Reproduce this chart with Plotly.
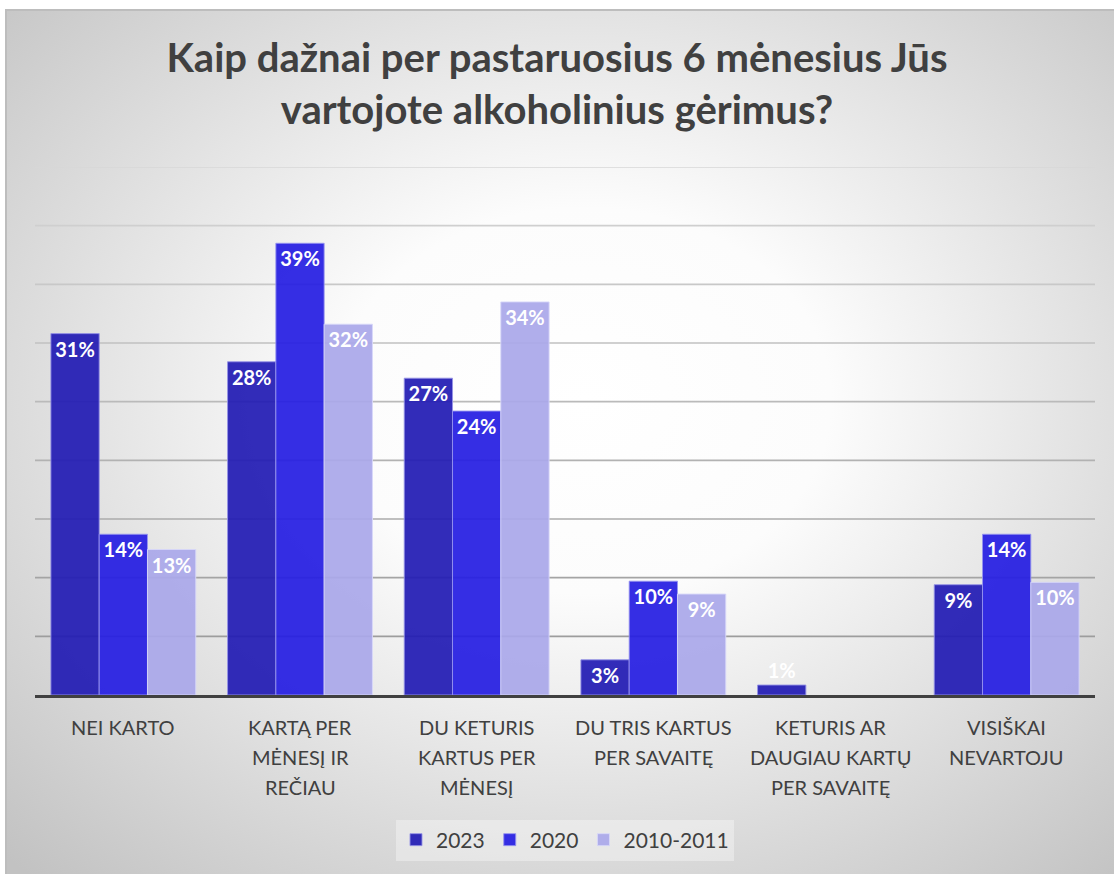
import base64
import plotly.graph_objects as go

# ---------------- data ----------------
category_lines = [
    ["NEI KARTO"],
    ["KARTĄ PER", "MĖNESĮ IR", "REČIAU"],
    ["DU KETURIS", "KARTUS PER", "MĖNESĮ"],
    ["DU TRIS KARTUS", "PER SAVAITĘ"],
    ["KETURIS AR", "DAUGIAU KARTŲ", "PER SAVAITĘ"],
    ["VISIŠKAI", "NEVARTOJU"],
]
categories = [" ".join(l) for l in category_lines]

series_names = ["2023", "2020", "2010-2011"]
values_2023 = [30.8, 28.4, 27.0, 3.0, 0.85, 9.4]
values_2020 = [13.7, 38.5, 24.2, 9.7, None, 13.7]
values_2010 = [12.4, 31.6, 33.5, 8.6, None, 9.6]
labels_2023 = ["31%", "28%", "27%", "3%", "1%", "9%"]
labels_2020 = ["14%", "39%", "24%", "10%", "", "14%"]
labels_2010 = ["13%", "32%", "34%", "9%", "", "10%"]

title_text = "Kaip dažnai per pastaruosius 6 mėnesius Jūs<br>vartojote alkoholinius gėrimus?"

# ---------------- style ----------------
W, H = 1114, 874
ML, MR, MT, MB = 35, 19, 167, 179
PW, PH = W - ML - MR, H - MT - MB
FONT = "Lato"
TXT = "#404040"
colors = ["rgba(34,28,180,0.93)", "rgba(38,30,226,0.93)", "rgba(170,168,234,0.93)"]
edge = ["rgba(150,148,230,0.9)", "rgba(150,148,240,0.9)", "rgba(215,215,248,0.9)"]


def px2x(px):
    return (px - ML) / PW


def py2y(py):
    return (H - MB - py) / PH


fig = go.Figure()
for name, vals, labs, c, e in zip(series_names,
                                  [values_2023, values_2020, values_2010],
                                  [labels_2023, labels_2020, labels_2010],
                                  colors, edge):
    positions = ["inside" if (v is not None and v > 2) else "outside" for v in vals]
    fig.add_trace(go.Bar(
        name=name, x=categories, y=vals, text=labs,
        textposition=positions, insidetextanchor="end", textangle=0,
        constraintext="none", cliponaxis=False,
        textfont=dict(family=FONT, size=20, color="white", weight="bold"),
        outsidetextfont=dict(family=FONT, size=20, color="white", weight="bold"),
        marker=dict(color=c, line=dict(color=e, width=1)),
        hoverinfo="skip",
    ))

# background radial gradient (as svg image)
svg = (
    '<svg xmlns="http://www.w3.org/2000/svg" width="1108" height="864" '
    'viewBox="0 0 1108 864" preserveAspectRatio="none">'
    '<defs><radialGradient id="g" cx="0.52" cy="0.45" r="0.74">'
    '<stop offset="0" stop-color="#ffffff"/>'
    '<stop offset="0.3" stop-color="#fcfcfc"/>'
    '<stop offset="1" stop-color="#c2c2c2"/>'
    '</radialGradient></defs>'
    '<rect x="0" y="0" width="1108" height="864" fill="url(#g)"/></svg>'
)
src = "data:image/svg+xml;base64," + base64.b64encode(svg.encode()).decode()
fig.add_layout_image(dict(
    source=src, xref="paper", yref="paper",
    x=px2x(6), y=py2y(10), sizex=(W + 4 - 6) / PW, sizey=(H + 4 - 10) / PH,
    xanchor="left", yanchor="top", sizing="stretch", layer="below",
))

shapes = []
# frame
shapes.append(dict(type="rect", xref="paper", yref="paper",
                   x0=px2x(6), x1=px2x(W + 10), y0=py2y(10), y1=py2y(H + 10),
                   line=dict(color="#bdbdbd", width=2), fillcolor="rgba(0,0,0,0)",
                   layer="below"))
# gridlines with vertical shading
grid_vals = list(range(5, 50, 5))
for gv in grid_vals:
    t = gv / 45.0
    g = int(150 + (215 - 150) * t)
    shapes.append(dict(type="line", xref="paper", yref="y", x0=0, x1=1, y0=gv, y1=gv,
                       line=dict(color=f"rgb({g},{g},{g})", width=1.6), layer="below"))
fig.update_layout(shapes=shapes)

# category labels, one annotation per line (Excel-like line spacing)
annotations = []
for cat, lines in zip(categories, category_lines):
    for i, ln in enumerate(lines):
        annotations.append(dict(x=cat, y=0, xref="x", yref="y", text=ln, showarrow=False,
                                yanchor="middle", yshift=-(32 + 30 * i),
                                font=dict(family=FONT, size=20, color=TXT)))
fig.update_layout(annotations=annotations)

fig.update_layout(
    width=W, height=H,
    margin=dict(l=ML, r=MR, t=MT, b=MB, autoexpand=False),
    paper_bgcolor="white", plot_bgcolor="rgba(0,0,0,0)",
    barmode="group", bargap=0.18, bargroupgap=0.0,
    title=dict(text=title_text, x=0.5, xanchor="center", xref="container",
               y=1 - 72 / H, yanchor="top", yref="container",
               font=dict(family=FONT, size=40, color=TXT, weight="bold")),
    xaxis=dict(showticklabels=False, showgrid=False, showline=True, linecolor="#404040",
               linewidth=3, ticks="", zeroline=False, fixedrange=True),
    yaxis=dict(range=[0, 45], showgrid=False, showticklabels=False, zeroline=False,
               showline=False, fixedrange=True),
    legend=dict(orientation="h", x=0.5, xanchor="center", y=py2y(840), yanchor="middle",
                bgcolor="rgba(255,255,255,0.35)", borderwidth=0,
                font=dict(family=FONT, size=21, color=TXT), traceorder="normal",
                itemwidth=30),
    showlegend=True,
)

fig.write_html("out.html", config={"displayModeBar": False},
               post_script="document.body.style.margin='0';")
